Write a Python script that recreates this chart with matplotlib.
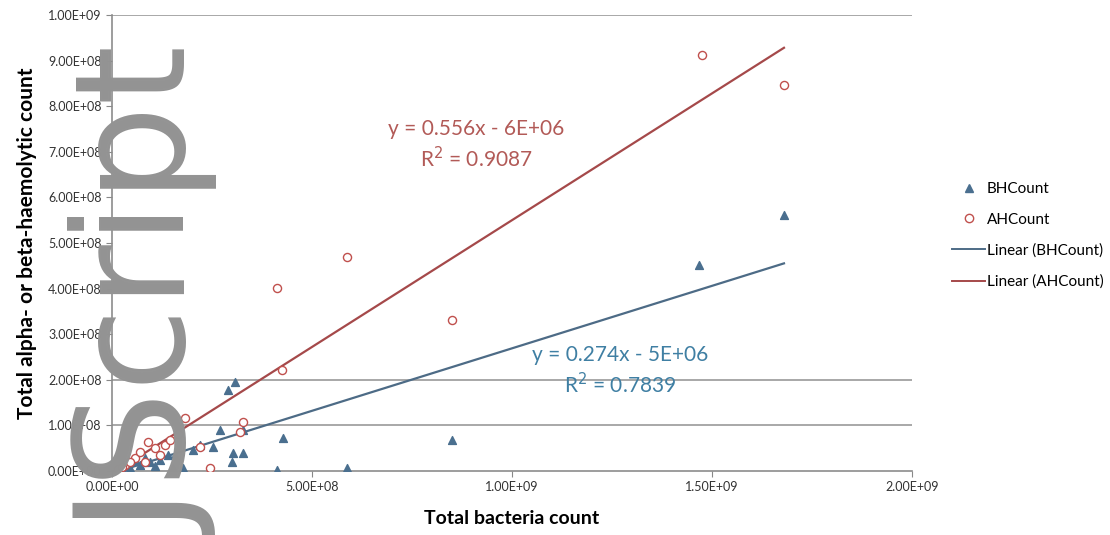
import matplotlib.pyplot as plt
from matplotlib.ticker import FuncFormatter, MultipleLocator
from matplotlib.lines import Line2D
import numpy as np

plt.rcParams['font.family'] = ['Lato', 'DejaVu Sans']

# beta-haemolytic counts (triangles)
bh_x = [1.68e9, 1.4675e9, 8.5e8, 5.87e8, 4.13e8, 4.28e8, 3.08e8, 2.9e8, 3.28e8, 3.28e8,
        3.03e8, 3.0e8, 2.7e8, 2.53e8, 2.03e8, 1.78e8, 1.53e8, 1.4e8, 1.2e8, 9.5e7,
        7e7, 4.5e7, 2.5e7, 1e7, 1.08e8, 8.3e7, 1.58e8, 2.2e8, 6e7, 3.5e7]
bh_y = [5.61e8, 4.52e8, 6.8e7, 6.6e6, 2e6, 7.2e7, 1.95e8, 1.78e8, 9.0e7, 3.9e7,
        3.9e7, 2.0e7, 9.0e7, 5.3e7, 4.6e7, 6.6e6, 6.6e6, 3.5e7, 2.4e7, 2e7,
        1.3e7, 6.6e6, 4e6, 2e6, 1.1e7, 2.8e7, 3.5e7, 5.7e7, 2.2e7, 1.0e7]

# alpha-haemolytic counts (open circles)
ah_x = [1.68e9, 1.475e9, 8.5e8, 5.87e8, 4.13e8, 4.25e8, 1.83e8, 9.0e7, 2.45e8, 3.28e8,
        3.2e8, 2.2e8, 3.3e7, 1.5e7, 5.8e7, 7e7, 1.08e8, 1.33e8, 1.45e8, 4.5e7,
        1.2e8, 8.3e7, 2.5e7, 1.65e8]
ah_y = [8.46e8, 9.12e8, 3.31e8, 4.69e8, 4.01e8, 2.21e8, 1.16e8, 6.4e7, 6.6e6, 1.07e8,
        8.5e7, 5.3e7, 1.3e7, 4e6, 2.8e7, 4.2e7, 5e7, 5.7e7, 6.8e7, 2e7,
        3.5e7, 2e7, 8e6, 8.2e7]

# trendlines as shown on chart
bh_fit = (0.274, -5e6, 0.7839)
ah_fit = (0.556, -6e6, 0.9087)

blue = '#4a6f8f'
red = '#c0504d'

fig = plt.figure(figsize=(11.1, 5.35), dpi=100)
ax = fig.add_axes([0.1009, 0.1196, 0.7207, 0.8524])

ax.scatter(bh_x, bh_y, marker='^', s=32, color=blue, zorder=3)
ax.scatter(ah_x, ah_y, marker='o', s=34, facecolors='white', edgecolors=red,
           linewidths=1.0, zorder=3)

xs = np.array([0, max(bh_x)])
ax.plot(xs, bh_fit[0] * xs + bh_fit[1], color='#4d6b86', lw=1.6, zorder=2)
xs = np.array([0, max(ah_x)])
ax.plot(xs, ah_fit[0] * xs + ah_fit[1], color='#a5494a', lw=1.6, zorder=2)

ax.text(9.1e8, 7.15e8, 'y = 0.556x - 6E+06\nR$^2$ = 0.9087', color='#b25a57',
        fontsize=15, ha='center', va='center', linespacing=1.3)
ax.text(1.27e9, 2.19e8, 'y = 0.274x - 5E+06\nR$^2$ = 0.7839', color='#3f7fa3',
        fontsize=15, ha='center', va='center', linespacing=1.3)

ax.set_xlim(0, 2e9)
ax.set_ylim(0, 1e9)
ax.xaxis.set_major_locator(MultipleLocator(5e8))
ax.yaxis.set_major_locator(MultipleLocator(1e8))
fmt = FuncFormatter(lambda v, p: f'{v:.2E}')
ax.xaxis.set_major_formatter(fmt)
ax.yaxis.set_major_formatter(fmt)
ax.tick_params(labelsize=9, colors='#333333', length=4, color='#888888')

for y in [1e8, 2e8, 1e9]:
    ax.axhline(y, color='#9a9a9a', lw=1.2, zorder=1)
for s in ['top', 'right']:
    ax.spines[s].set_visible(False)
for s in ['left', 'bottom']:
    ax.spines[s].set_color('#8c8c8c')
    ax.spines[s].set_linewidth(1.2)

ax.set_xlabel('Total bacteria count', fontsize=14, fontweight='bold', labelpad=12)
ax.set_ylabel('Total alpha- or beta-haemolytic count', fontsize=15,
              fontweight='bold', labelpad=8)

handles = [
    Line2D([], [], marker='^', ls='none', color=blue, ms=6),
    Line2D([], [], marker='o', ls='none', mfc='white', mec=red, ms=6),
    Line2D([], [], color='#4d6b86', lw=1.4),
    Line2D([], [], color='#a5494a', lw=1.4),
]
labels = ['BHCount', 'AHCount', 'Linear (BHCount)', 'Linear (AHCount)']
fig.legend(handles, labels, loc='center left', bbox_to_anchor=(0.845, 0.56),
           frameon=False, fontsize=11, handlelength=2.2, labelspacing=1.1,
           handletextpad=0.1)

# watermark overlay
fig.text(0.068, -0.01, 'JScript', rotation=90, fontsize=110, color='#939393',
         family='DejaVu Sans', ha='left', va='bottom', zorder=10)

fig.savefig('out.png', dpi=100)
